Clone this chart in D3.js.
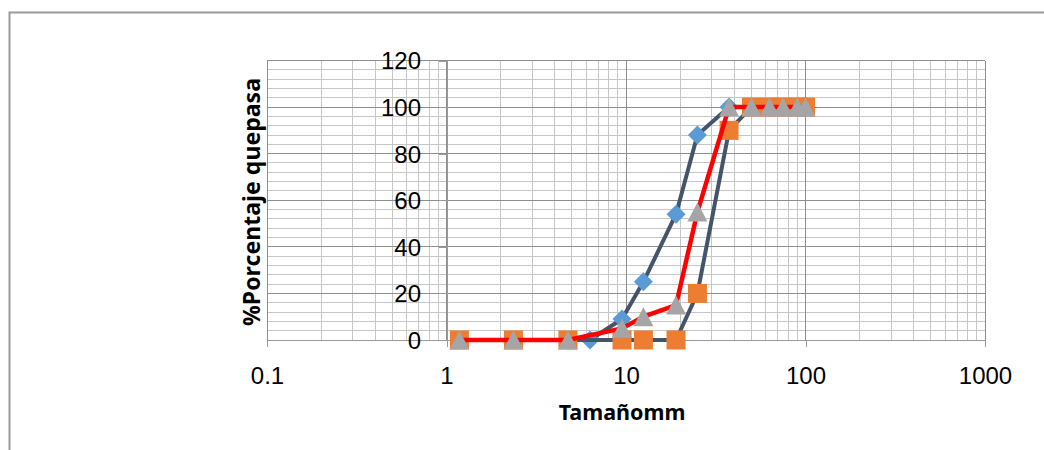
<!DOCTYPE html>
<html>
<head>
<meta charset="utf-8">
<title>Curva granulométrica</title>
<script src="https://d3js.org/d3.v7.min.js"></script>
<style>
  body { margin: 0; background: #fff; }
  .etiqueta text { font: 24px "Liberation Sans", Arial, sans-serif; fill: #000; }
  .titulo { font: bold 21.5px "Noto Sans", Tahoma, sans-serif; fill: #000; }
</style>
</head>
<body>
<div id="grafico"></div>
<script>
"use strict"

// tamices (mm) y % que pasa de cada serie
var tamanoAzul = [6.3, 9.5, 12.5, 19, 25, 37.5, 50, 63, 75, 90, 100];
var pasaAzul   = [0, 9, 25, 54, 88, 100, 100, 100, 100, 100, 100];

var tamanoNaranja = [1.18, 2.36, 4.75, 9.5, 12.5, 19, 25, 37.5, 50, 63, 75, 90, 100];
var pasaNaranja   = [0, 0, 0, 0, 0, 0, 20, 90, 100, 100, 100, 100, 100];

var tamanoGris = [1.18, 2.36, 4.75, 9.5, 12.5, 19, 25, 37.5, 50, 63, 75, 90, 100];
var pasaGris   = [0, 0, 0, 5, 10, 15, 55, 100, 100, 100, 100, 100, 100];

var ticksX = [0.1, 1, 10, 100, 1000];
var ticksY = [0, 20, 40, 60, 80, 100, 120];

var anchoSVG = 1044, altoSVG = 450;
var area = {left: 267, right: 985, top: 60.5, bottom: 340};

var svg = d3.select('#grafico')
    .append('svg')
    .attr('width', anchoSVG)
    .attr('height', altoSVG)
    .style('display', 'block');

svg.append('rect').attr('width', anchoSVG).attr('height', altoSVG).attr('fill', '#fff');

// marco del grafico (cortado por la derecha y abajo)
svg.append('rect')
    .attr('x', 9.5).attr('y', 12.5)
    .attr('width', 1100).attr('height', 500)
    .attr('fill', 'none').attr('stroke', '#9a9a9a').attr('stroke-width', 2);

var x = d3.scaleLog().domain([0.1, 1000]).range([area.left, area.right]);
var y = d3.scaleLinear().domain([0, 120]).range([area.bottom, area.top]);

// rejilla secundaria
var menoresX = [];
ticksX.slice(0, -1).forEach(function(d) {
  for (var k = 2; k <= 9; k++) menoresX.push(d * k);
});
var menoresY = d3.range(0, 121, 4).filter(function(d) { return d % 20 !== 0; });

var rejilla = svg.append('g').attr('shape-rendering', 'crispEdges');

rejilla.selectAll('.vmenor').data(menoresX).enter()
    .append('line')
    .attr('x1', d => x(d)).attr('x2', d => x(d))
    .attr('y1', area.top).attr('y2', area.bottom)
    .attr('stroke', '#c6c6c6');

rejilla.selectAll('.hmenor').data(menoresY).enter()
    .append('line')
    .attr('x1', area.left).attr('x2', area.right)
    .attr('y1', d => y(d)).attr('y2', d => y(d))
    .attr('stroke', '#c6c6c6');

rejilla.selectAll('.vmayor').data(ticksX).enter()
    .append('line')
    .attr('x1', d => x(d)).attr('x2', d => x(d))
    .attr('y1', area.top).attr('y2', area.bottom)
    .attr('stroke', '#8e8e8e');

rejilla.selectAll('.hmayor').data(ticksY).enter()
    .append('line')
    .attr('x1', area.left).attr('x2', area.right)
    .attr('y1', d => y(d)).attr('y2', d => y(d))
    .attr('stroke', '#8e8e8e');

// ejes
var ejeX = svg.append('g')
    .attr('class', 'etiqueta')
    .attr('transform', 'translate(0,' + area.bottom + ')')
    .call(d3.axisBottom(x).tickValues(ticksX).tickFormat(d => String(d))
        .tickSize(7).tickSizeOuter(0).tickPadding(19.5));

var ejeY = svg.append('g')
    .attr('class', 'etiqueta')
    .attr('transform', 'translate(' + x(1) + ',0)')
    .call(d3.axisLeft(y).tickValues(ticksY).tickSize(8).tickSizeOuter(0).tickPadding(17.5));

[ejeX, ejeY].forEach(function(e) {
  e.attr('font-size', null).attr('font-family', null);
  e.select('.domain').attr('stroke', '#9a9a9a').attr('shape-rendering', 'crispEdges');
  e.selectAll('.tick line').attr('stroke', '#9a9a9a').attr('shape-rendering', 'crispEdges');
});
ejeY.selectAll('text').attr('dy', '0.35em');

// titulos
svg.append('text')
    .attr('class', 'titulo')
    .attr('x', 622).attr('y', 420)
    .attr('text-anchor', 'middle')
    .text('Tamañomm');

svg.append('text')
    .attr('class', 'titulo')
    .attr('transform', 'translate(260,202) rotate(-90)')
    .attr('text-anchor', 'middle')
    .style('font-size', '23px')
    .attr('textLength', 248)
    .text('%Porcentaje quepasa');

// series
var linea = d3.line()
    .x(d => x(d[0]))
    .y(d => y(d[1]));

function puntos(tam, pasa) {
  return tam.map(function(t, i) { return [t, pasa[i]]; });
}

var rombo = {draw: function(c) { c.moveTo(0, -9.5); c.lineTo(9.5, 0); c.lineTo(0, 9.5); c.lineTo(-9.5, 0); c.closePath(); }};
var cuadro = {draw: function(c) { c.rect(-9.5, -9.5, 19, 19); }};
var triangulo = {draw: function(c) { c.moveTo(0, -9.5); c.lineTo(10, 9.5); c.lineTo(-10, 9.5); c.closePath(); }};

var series = [
  {datos: puntos(tamanoAzul, pasaAzul), linea: '#44546A', ancho: 4, marca: rombo, color: '#5B9BD5'},
  {datos: puntos(tamanoNaranja, pasaNaranja), linea: '#44546A', ancho: 4, marca: cuadro, color: '#ED7D31'},
  {datos: puntos(tamanoGris, pasaGris), linea: '#FF0000', ancho: 4.5, marca: triangulo, color: '#A5A5A5'}
];

series.forEach(function(s) {
  var g = svg.append('g');
  g.append('path')
      .attr('d', linea(s.datos))
      .attr('fill', 'none')
      .attr('stroke', s.linea)
      .attr('stroke-width', s.ancho)
      .attr('stroke-linejoin', 'round');
  g.selectAll('path.marca').data(s.datos).enter()
      .append('path')
      .attr('class', 'marca')
      .attr('transform', d => 'translate(' + x(d[0]) + ',' + y(d[1]) + ')')
      .attr('d', d3.symbol(s.marca)())
      .attr('fill', s.color);
});
</script>
</body>
</html>
